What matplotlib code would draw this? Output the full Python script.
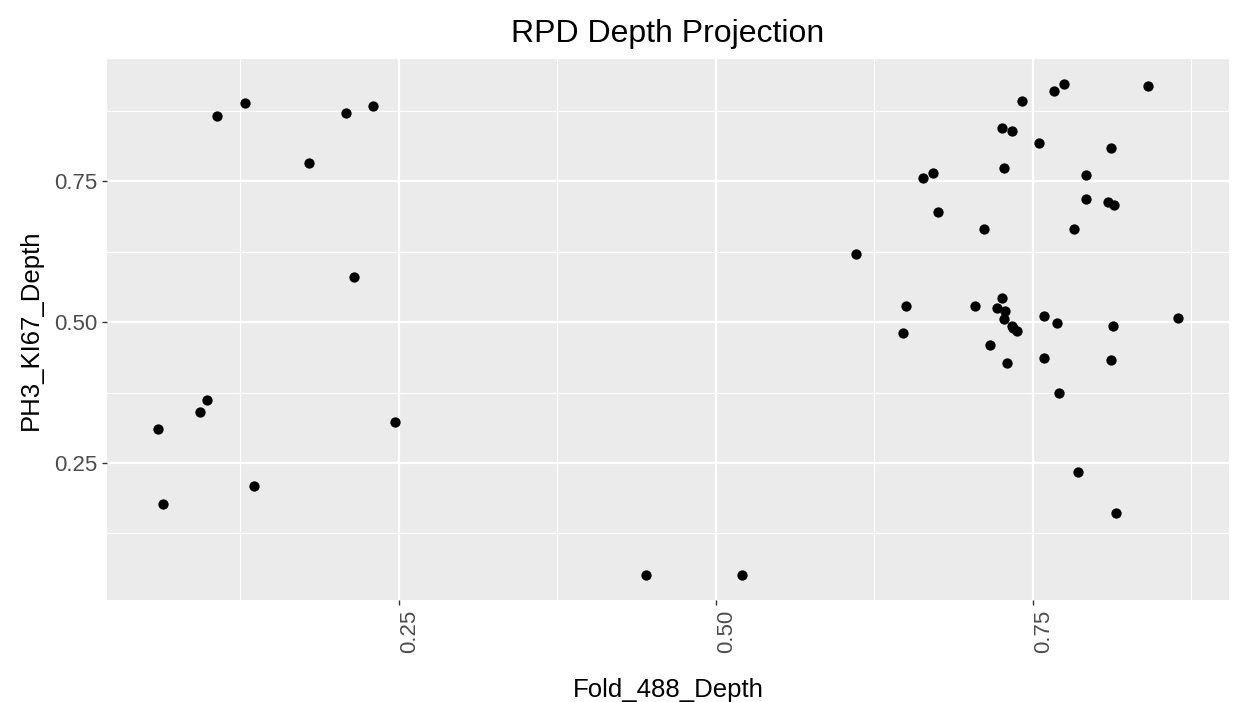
import numpy as np
import matplotlib
matplotlib.use("Agg")
import matplotlib.pyplot as plt
from matplotlib.ticker import MultipleLocator

plt.rcParams['font.family'] = ['Liberation Sans', 'DejaVu Sans']

# Fold_488_Depth vs PH3_KI67_Depth
fold_488 = [0.1068, 0.1284, 0.1790, 0.2082, 0.2300, 0.2143,
            0.0990, 0.0930, 0.0601, 0.0638, 0.1360, 0.2471,
            0.4446, 0.5208,
            0.6103, 0.8410, 0.7749, 0.7666, 0.7414, 0.7256, 0.7337, 0.7550,
            0.8117, 0.7274, 0.6715, 0.6631, 0.7920, 0.7920, 0.8093, 0.8138,
            0.6749, 0.7119, 0.7826,
            0.6497, 0.7043, 0.7259, 0.7215, 0.7284, 0.7274, 0.7332, 0.7345,
            0.7377, 0.7589, 0.7689, 0.8135, 0.8645, 0.6476, 0.7161,
            0.7297, 0.7589, 0.8117, 0.7705, 0.7860, 0.8154]
ph3_ki67 = [0.866, 0.889, 0.783, 0.871, 0.884, 0.581,
            0.3614, 0.340, 0.3094, 0.1775, 0.2087, 0.3225,
            0.0502, 0.0502,
            0.6213, 0.9194, 0.9236, 0.910, 0.8929, 0.8446, 0.840, 0.8186,
            0.8098, 0.7744, 0.7656, 0.7567, 0.7615, 0.7178, 0.7131, 0.7085,
            0.6955, 0.6648, 0.6648,
            0.5287, 0.5287, 0.5423, 0.5251, 0.5205, 0.5064, 0.494, 0.4898,
            0.484, 0.5117, 0.498, 0.494, 0.5075, 0.4804, 0.4586,
            0.4273, 0.4367, 0.432, 0.3749, 0.2346, 0.1604]

x = np.array(fold_488)
y = np.array(ph3_ki67)

fig = plt.figure(figsize=(12.35, 7.02), dpi=100)
ax = fig.add_axes([107/1235, 1 - 600/702, (1229 - 107)/1235, (600 - 59)/702])

# ggplot style: 5% expansion
def expand(v):
    span = v.max() - v.min()
    return v.min() - 0.05*span, v.max() + 0.05*span

ax.set_xlim(*expand(x))
ax.set_ylim(*expand(y))

ax.set_facecolor('#EBEBEB')
for s in ax.spines.values():
    s.set_visible(False)

ax.xaxis.set_major_locator(MultipleLocator(0.25))
ax.yaxis.set_major_locator(MultipleLocator(0.25))
ax.xaxis.set_minor_locator(MultipleLocator(0.125))
ax.yaxis.set_minor_locator(MultipleLocator(0.125))
ax.grid(which='major', color='white', lw=1.6)
ax.grid(which='minor', color='white', lw=0.8)
ax.set_axisbelow(True)

ax.scatter(x, y, s=55, c='black', linewidths=0, zorder=3)

ax.tick_params(which='minor', length=0)
ax.tick_params(which='major', length=3.5, width=1, color='#333333',
               labelcolor='#4D4D4D', labelsize=16)
ax.set_xticks([0.25, 0.50, 0.75])
ax.set_xticklabels(['0.25', '0.50', '0.75'], rotation=90, ha='left', va='top')
ax.set_yticks([0.25, 0.50, 0.75])
ax.set_yticklabels(['0.25', '0.50', '0.75'])

ax.set_xlabel('Fold_488_Depth', fontsize=18.5, color='black', labelpad=18)
ax.set_ylabel('PH3_KI67_Depth', fontsize=18.5, color='black', labelpad=8)
ax.set_title('RPD Depth Projection', fontsize=23, color='black', pad=12)

fig.savefig('out.png', dpi=100)
